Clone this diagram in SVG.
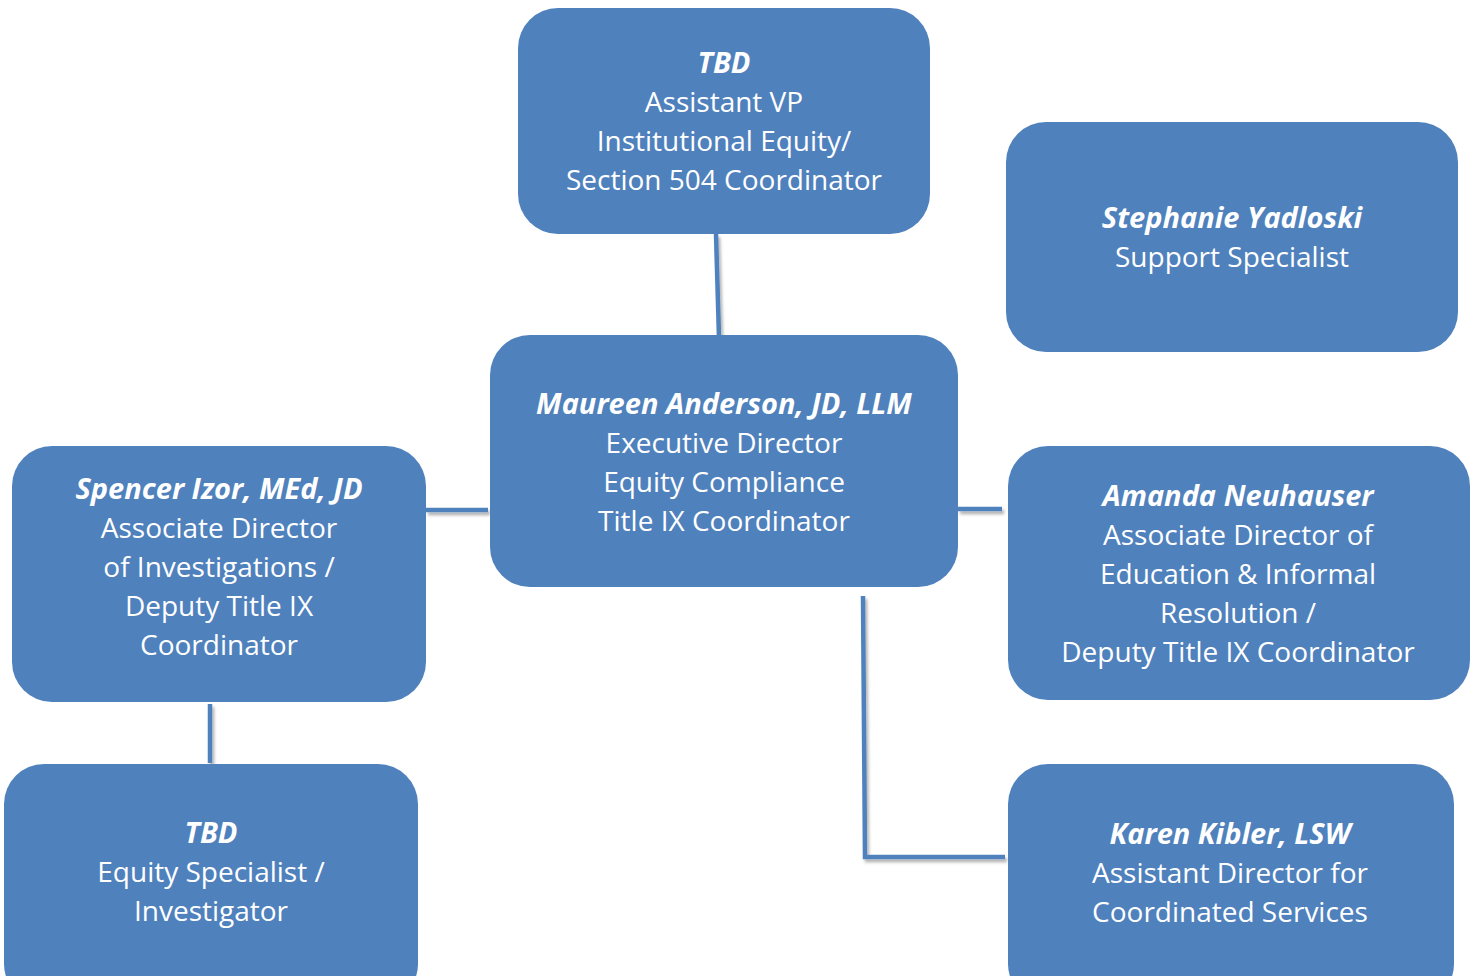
<svg xmlns="http://www.w3.org/2000/svg" width="1479" height="976" viewBox="0 0 1479 976">
<defs>
<filter id="sh" filterUnits="userSpaceOnUse" x="0" y="0" width="1479" height="976">
<feDropShadow dx="2" dy="3" stdDeviation="1.5" flood-color="#000" flood-opacity="0.3"/>
</filter>
</defs>
<style>
.box{fill:#4F81BD;}
.t{font-family:"Open Sans","Noto Sans",sans-serif;font-size:28px;fill:#fff;text-anchor:middle;}
.b{font-weight:bold;font-style:italic;font-size:29px;}
.c{stroke:#4F81BD;stroke-width:4.5;fill:none;filter:url(#sh);}
</style>
<rect width="1479" height="976" fill="#fff"/>
<g id="connectors">
<line class="c" x1="716" y1="234" x2="719" y2="337"/>
<line class="c" x1="426" y1="510" x2="488" y2="510"/>
<line class="c" x1="958" y1="509" x2="1002" y2="509"/>
<line class="c" x1="210" y1="704" x2="210" y2="763"/>
<polyline class="c" points="863,596 865,857 1005,857"/>
</g>
<g id="n-top">
<rect class="box" x="518" y="8" width="412" height="226" rx="40"/>
<text class="t" x="724" y="73"><tspan class="b">TBD</tspan><tspan x="724" dy="39">Assistant VP</tspan><tspan x="724" dy="39">Institutional Equity/</tspan><tspan x="724" dy="39">Section 504 Coordinator</tspan></text>
</g>
<g id="n-stephanie">
<rect class="box" x="1006" y="122" width="452" height="230" rx="40"/>
<text class="t" x="1232" y="228"><tspan class="b">Stephanie Yadloski</tspan><tspan x="1232" dy="39">Support Specialist</tspan></text>
</g>
<g id="n-maureen">
<rect class="box" x="490" y="335" width="468" height="252" rx="40"/>
<text class="t" x="724" y="414"><tspan class="b">Maureen Anderson, JD, LLM</tspan><tspan x="724" dy="39">Executive Director</tspan><tspan x="724" dy="39">Equity Compliance</tspan><tspan x="724" dy="39">Title IX Coordinator</tspan></text>
</g>
<g id="n-spencer">
<rect class="box" x="12" y="446" width="414" height="256" rx="40"/>
<text class="t" x="219" y="499"><tspan class="b">Spencer Izor, MEd, JD</tspan><tspan x="219" dy="39">Associate Director</tspan><tspan x="219" dy="39">of Investigations /</tspan><tspan x="219" dy="39">Deputy Title IX</tspan><tspan x="219" dy="39">Coordinator</tspan></text>
</g>
<g id="n-amanda">
<rect class="box" x="1008" y="446" width="462" height="254" rx="40"/>
<text class="t" x="1238" y="506"><tspan class="b">Amanda Neuhauser</tspan><tspan x="1238" dy="39">Associate Director of</tspan><tspan x="1238" dy="39">Education &amp; Informal</tspan><tspan x="1238" dy="39">Resolution /</tspan><tspan x="1238" dy="39">Deputy Title IX Coordinator</tspan></text>
</g>
<g id="n-tbd2">
<rect class="box" x="4" y="764" width="414" height="240" rx="40"/>
<text class="t" x="211" y="843"><tspan class="b">TBD</tspan><tspan x="211" dy="39">Equity Specialist /</tspan><tspan x="211" dy="39">Investigator</tspan></text>
</g>
<g id="n-karen">
<rect class="box" x="1008" y="764" width="446" height="240" rx="40"/>
<text class="t" x="1230" y="844"><tspan class="b">Karen Kibler, LSW</tspan><tspan x="1230" dy="39">Assistant Director for</tspan><tspan x="1230" dy="39">Coordinated Services</tspan></text>
</g>
</svg>
